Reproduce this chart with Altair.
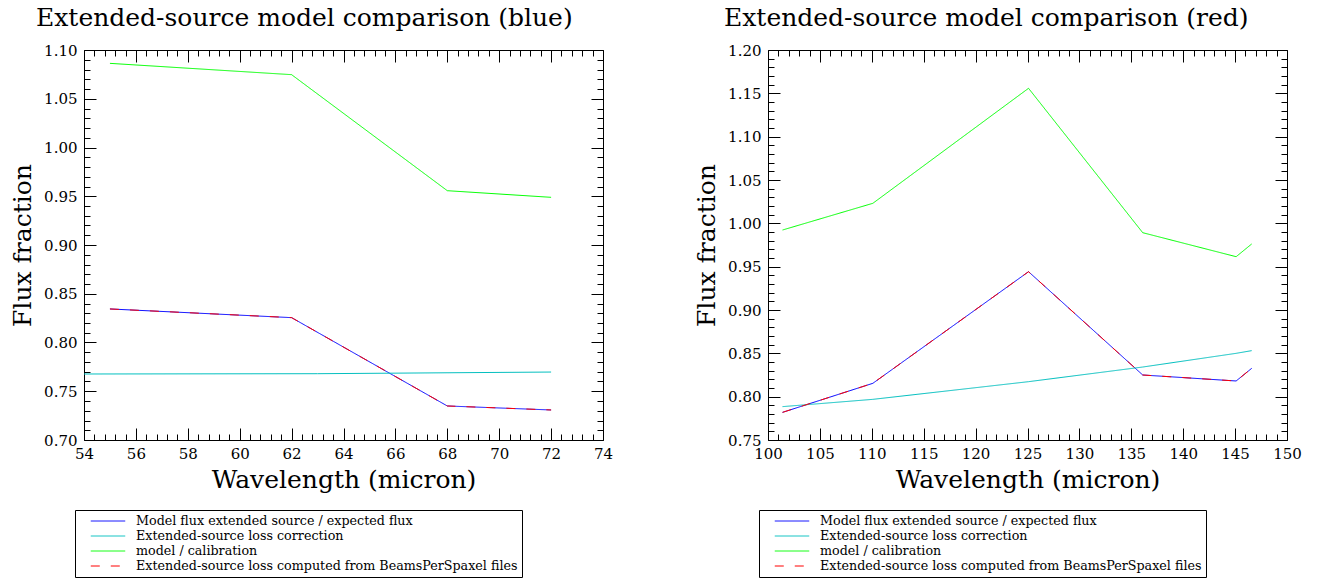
import altair as alt
import pandas as pd

FONT = "DejaVu Serif"

SERIES = [
    "Model flux extended source / expected flux",
    "Extended-source loss correction",
    "model / calibration",
    "Extended-source loss computed from BeamsPerSpaxel files",
]
COLORS = ["#0000ff", "#00bfbf", "#00ff00", "#ff0000"]
DASHES = [[1, 0], [1, 0], [1, 0], [9, 11]]

# ---- blue band ----
blue_x = [55, 62, 68, 72]
blue_ratio = [0.8344, 0.8255, 0.7349, 0.7308]
blue_corr_x = [54, 63, 72]
blue_corr = [0.7677, 0.7680, 0.7697]
blue_calib = [1.0863, 1.0747, 0.9557, 0.9489]
blue_beams = [0.8344, 0.8255, 0.7349, 0.7308]

# ---- red band ----
red_x = [101.4, 110.1, 125.1, 136.1, 145.1, 146.6]
red_ratio = [0.7819, 0.8154, 0.9442, 0.8250, 0.8181, 0.8327]
red_corr = [0.7885, 0.7969, 0.8173, 0.8342, 0.8500, 0.8531]
red_calib = [0.9923, 1.0231, 1.1558, 0.9892, 0.9615, 0.9762]
red_beams = [0.7819, 0.8154, 0.9442, 0.8250, 0.8181, 0.8327]

# axis ticks
blue_xmajor = [54, 56, 58, 60, 62, 64, 66, 68, 70, 72, 74]
blue_ymajor = [0.70, 0.75, 0.80, 0.85, 0.90, 0.95, 1.00, 1.05, 1.10]
red_xmajor = [100, 105, 110, 115, 120, 125, 130, 135, 140, 145, 150]
red_ymajor = [0.75, 0.80, 0.85, 0.90, 0.95, 1.00, 1.05, 1.10, 1.15, 1.20]


def minor(major, n):
    out = []
    for a, b in zip(major[:-1], major[1:]):
        step = (b - a) / n
        out += [round(a + step * k, 4) for k in range(1, n)]
    return out


def frame(pairs):
    rows = []
    for name, xs, ys in pairs:
        for x, y in zip(xs, ys):
            rows.append({"x": x, "y": y, "series": name})
    return pd.DataFrame(rows)


blue_df = frame([
    (SERIES[0], blue_x, blue_ratio),
    (SERIES[1], blue_corr_x, blue_corr),
    (SERIES[2], blue_x, blue_calib),
    (SERIES[3], blue_x, blue_beams),
])
red_df = frame([
    (SERIES[0], red_x, red_ratio),
    (SERIES[1], red_x, red_corr),
    (SERIES[2], red_x, red_calib),
    (SERIES[3], red_x, red_beams),
])


def tick_axis(orient, values, size):
    return alt.Axis(orient=orient, values=values, labels=False, ticks=True,
                    tickSize={"expr": f"-{size}"}, domain=False, grid=False,
                    title=None, tickColor="black", tickWidth=1,
                    minExtent=0, maxExtent=0, labelPadding=0)


def panel(df, xdom, ydom, xmajor, ymajor, xminor_n, yminor_n, title, title_dx):
    xs = alt.Scale(domain=xdom, nice=False, zero=False)
    ys = alt.Scale(domain=ydom, nice=False, zero=False)
    legend = alt.Legend(
        orient="none", legendX=-9, legendY=460, title=None,
        strokeColor="black", fillColor="white", padding=4, cornerRadius=0,
        labelFont=FONT, labelFontSize=12.7, labelColor="black", labelLimit=0,
        symbolType="M-2.65,0H2.65", symbolSize=169, symbolStrokeWidth=1,
        symbolOffset=22, labelOffset=21, rowPadding=1,
    )
    color = alt.Color("series:N", scale=alt.Scale(domain=SERIES, range=COLORS), legend=legend)
    dash = alt.StrokeDash("series:N", scale=alt.Scale(domain=SERIES, range=DASHES), legend=legend)

    x_lab = alt.Axis(orient="bottom", values=xmajor, format="d", ticks=False, domain=False,
                     grid=False, labelFont=FONT, labelFontSize=15, labelColor="black",
                     labelPadding=6, labelFlush=False, labelOverlap=False,
                     title="Wavelength (micron)", titleFont=FONT, titleFontSize=25,
                     titleFontWeight="normal", titleColor="black", titlePadding=6,
                     minExtent=0)
    y_lab = alt.Axis(orient="left", values=ymajor, format=".2f", ticks=False, domain=False,
                     grid=False, labelFont=FONT, labelFontSize=15, labelColor="black",
                     labelPadding=7, labelFlush=False, labelOverlap=False,
                     title="Flux fraction", titleFont=FONT, titleFontSize=25,
                     titleFontWeight="normal", titleColor="black", titlePadding=8,
                     minExtent=0)

    base = alt.Chart(df)
    solid = base.transform_filter(alt.datum.series != SERIES[3]).mark_line(
        strokeWidth=1, clip=True).encode(
        x=alt.X("x:Q", scale=xs, axis=x_lab),
        y=alt.Y("y:Q", scale=ys, axis=y_lab),
        color=color, strokeDash=dash,
    )
    dashed = base.transform_filter(alt.datum.series == SERIES[3]).mark_line(
        strokeWidth=1, clip=True).encode(
        x=alt.X("x:Q", scale=xs, axis=None),
        y=alt.Y("y:Q", scale=ys, axis=None),
        color=color, strokeDash=dash,
    )
    xminor = minor(xmajor, xminor_n)
    yminor = minor(ymajor, yminor_n)
    tick_layers = []
    for xo, yo, xv, yv, sz in [
        ("bottom", "left", xmajor, ymajor, 12),
        ("bottom", "left", xminor, yminor, 6),
        ("top", "right", xmajor, ymajor, 12),
        ("top", "right", xminor, yminor, 6),
    ]:
        tick_layers.append(
            base.mark_line(strokeOpacity=0).encode(
                x=alt.X("x:Q", scale=xs, axis=tick_axis(xo, xv, sz)),
                y=alt.Y("y:Q", scale=ys, axis=tick_axis(yo, yv, sz)),
                detail="series:N",
            )
        )
    return alt.layer(solid, dashed, *tick_layers).resolve_axis(
        x="independent", y="independent"
    ).properties(
        width=519, height=390,
        title=alt.TitleParams(title, anchor="start", frame="group", dx=title_dx,
                              fontSize=25, font=FONT, fontWeight="normal",
                              color="black", offset=12),
    )


left = panel(blue_df, [54, 74], [0.70, 1.10], blue_xmajor, blue_ymajor, 5, 5,
             "Extended-source model comparison (blue)", -48)
right = panel(red_df, [100, 150], [0.75, 1.20], red_xmajor, red_ymajor, 5, 5,
              "Extended-source model comparison (red)", -44)

chart = alt.hconcat(left, right, spacing=80).resolve_scale(
    color="independent", strokeDash="independent"
).configure_view(stroke="black", strokeWidth=1).properties(
    padding={"left": 10, "top": 5, "right": 5, "bottom": 5},
    background="white",
)

chart.save("out.html", embed_options={"renderer": "svg", "actions": False})
